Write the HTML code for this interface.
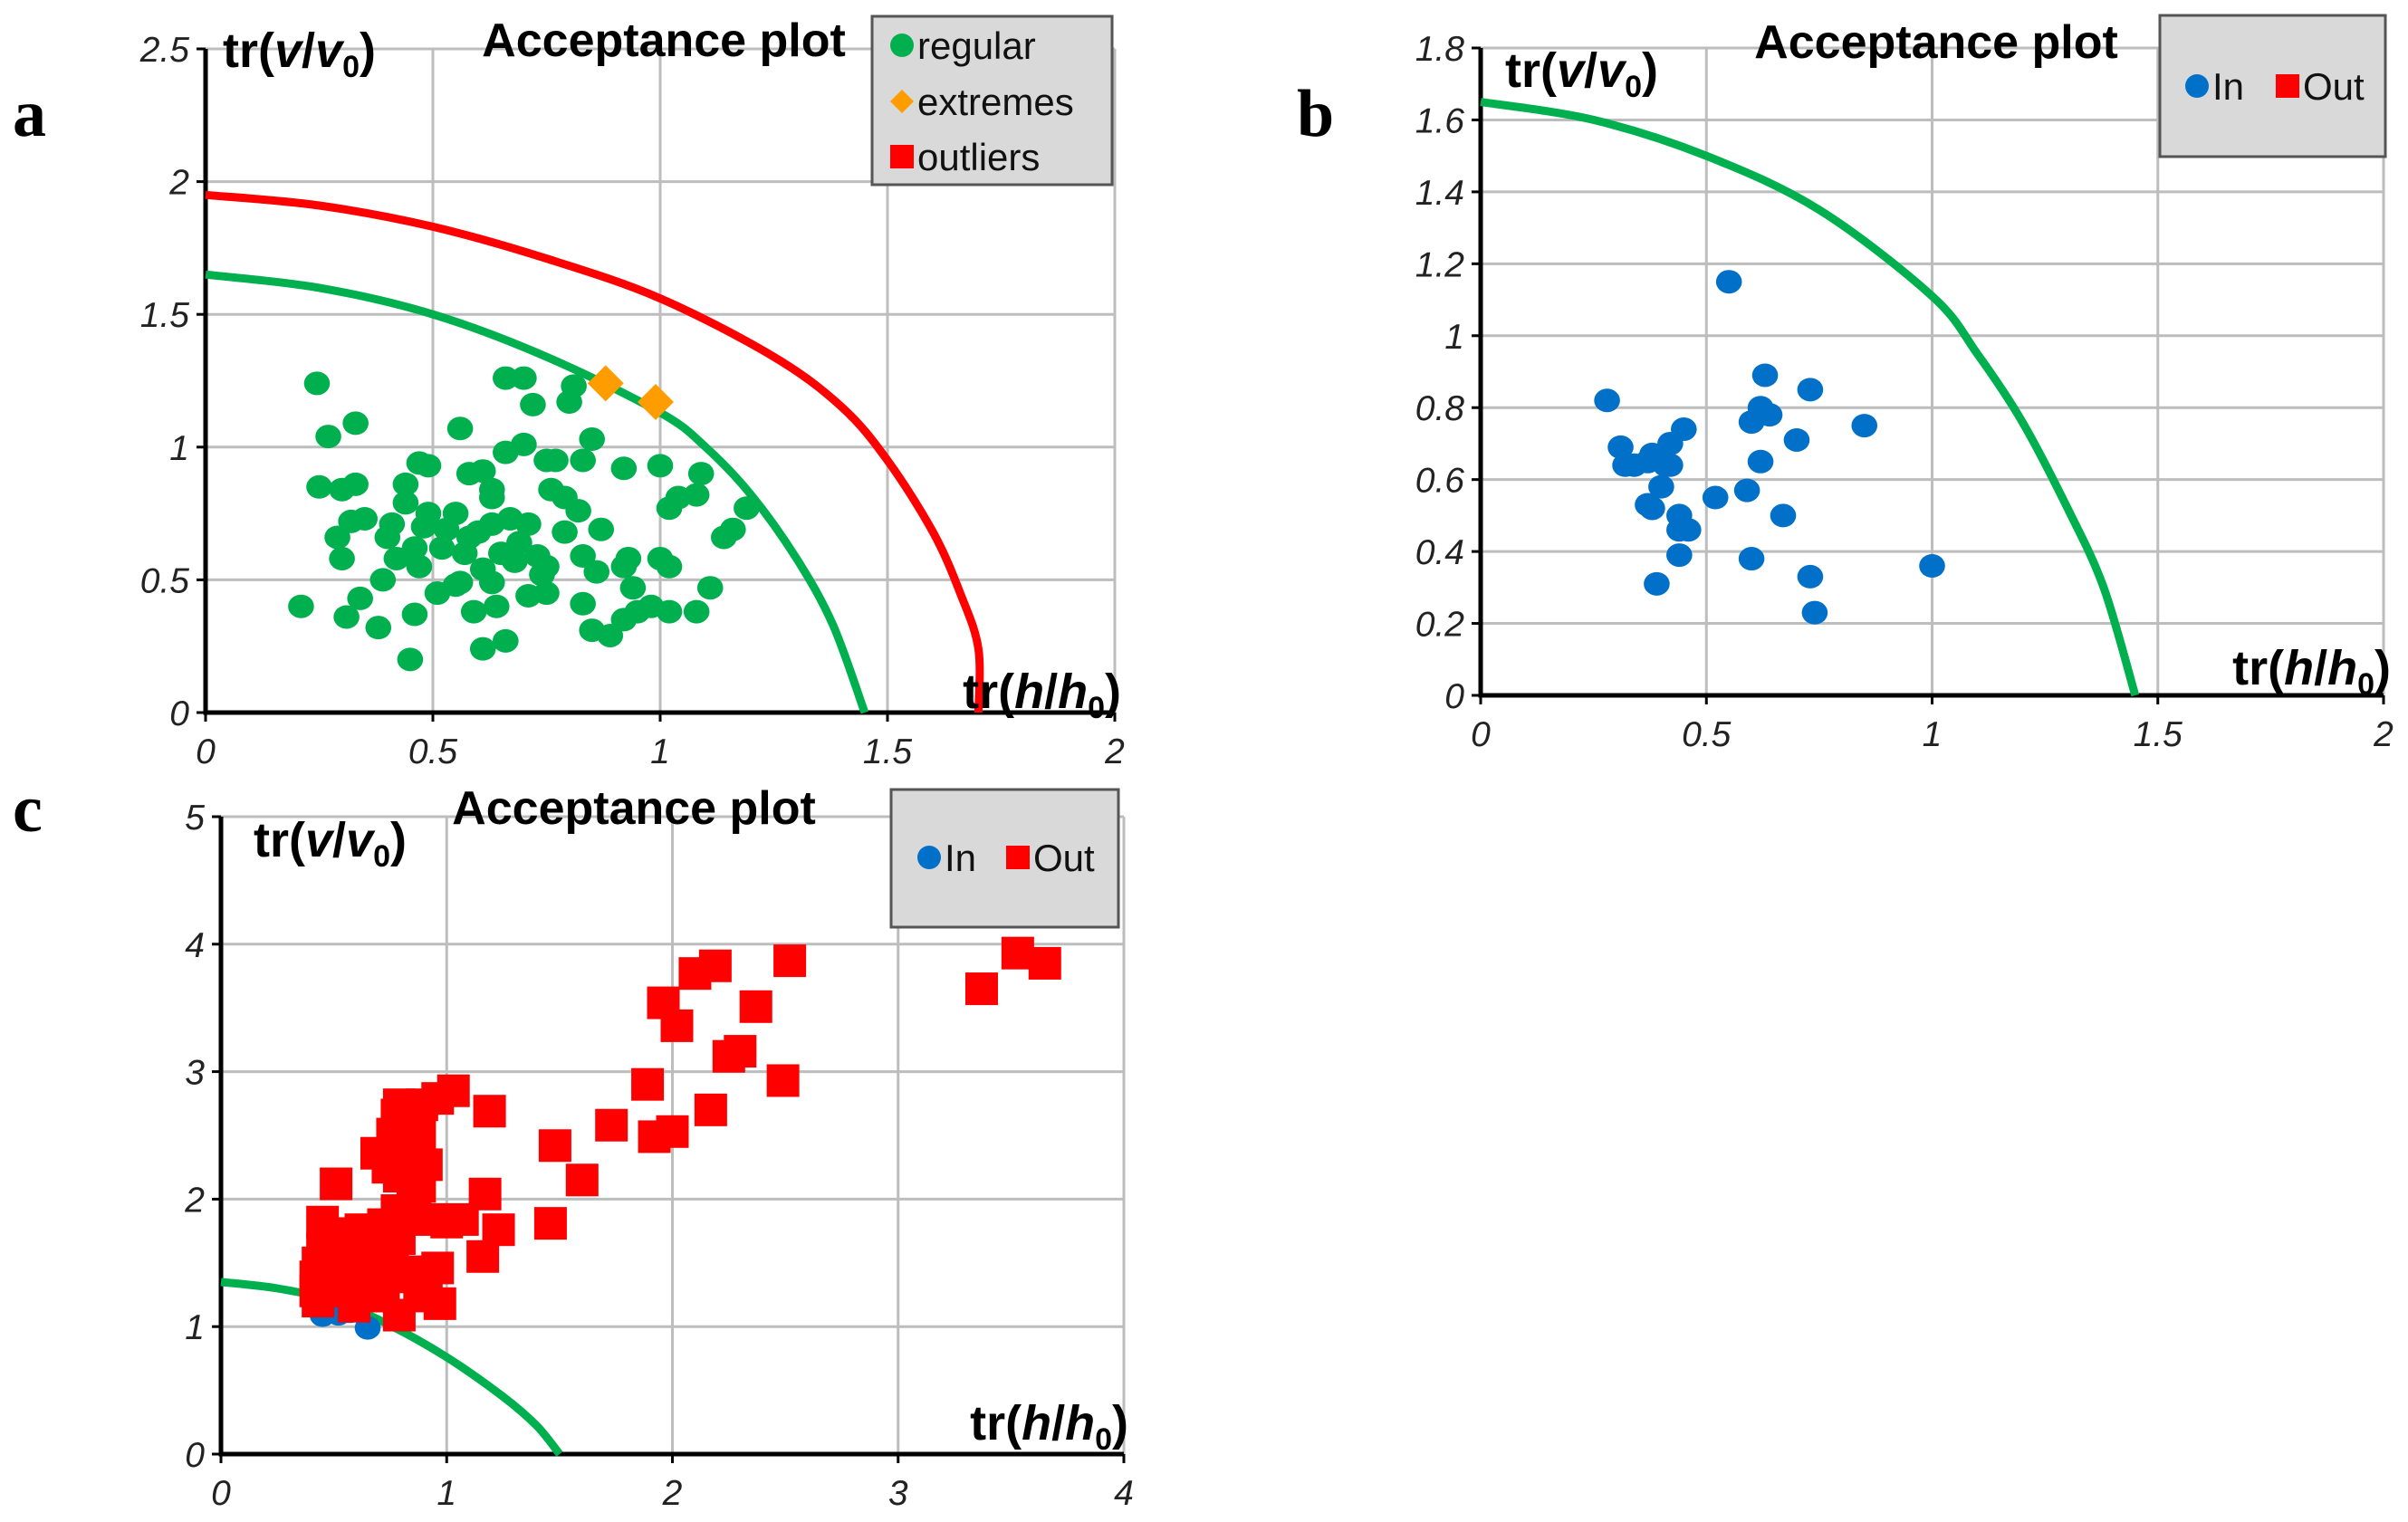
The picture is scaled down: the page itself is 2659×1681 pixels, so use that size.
<!DOCTYPE html>
<html><head><meta charset="utf-8"><style>
html,body{margin:0;padding:0;background:#fff;}
svg{display:block;font-family:"Liberation Sans",sans-serif;}
</style></head><body>
<svg id="fig" width="2659" height="1681" viewBox="0 0 2659 1681">
<text x="14" y="150" font-family="Liberation Serif,serif" font-weight="bold" font-size="74">a</text>
<text x="1432" y="150" font-family="Liberation Serif,serif" font-weight="bold" font-size="74">b</text>
<text x="14" y="918" font-family="Liberation Serif,serif" font-weight="bold" font-size="74">c</text>
</svg>
<script>
// ---- Panel A data ----
const aRegularX = [0.245,0.27,0.33,0.25,0.30,0.33,0.32,0.35,0.29,0.30,0.21,0.31,0.34,0.38,0.39,0.45,0.46,0.51,0.47,0.49,0.44,0.44,0.41,0.40,0.42,0.47,0.49,0.53,0.55,0.56,0.58,0.61,0.63,0.63,0.56,0.59,0.64,0.61,0.66,0.66,0.70,0.72,0.66,0.70,0.75,0.77,0.76,0.79,0.82,0.79,0.60,0.63,0.67,0.71,0.65,0.68,0.61,0.63,0.73,0.75,0.71,0.75,0.81,0.80,0.85,0.83,0.87,0.83,0.86,0.83,0.85,0.89,0.92,0.92,0.93,0.92,0.94,0.95,0.98,1.00,1.00,1.02,1.02,1.02,1.04,1.08,1.09,1.08,1.11,1.14,1.16,1.19,0.46,0.52,0.57,0.69,0.55,0.48,0.58,0.74];
const aRegularY = [1.24,1.04,1.09,0.85,0.84,0.86,0.72,0.73,0.66,0.58,0.40,0.36,0.43,0.32,0.50,0.20,0.37,0.45,0.94,0.93,0.86,0.79,0.71,0.66,0.58,0.55,0.75,0.69,0.75,1.07,0.90,0.91,0.84,0.81,0.49,0.38,0.40,0.24,0.27,1.26,1.26,1.16,0.98,1.01,0.95,0.95,0.84,0.81,0.76,0.68,0.68,0.71,0.73,0.71,0.60,0.57,0.54,0.49,0.59,0.55,0.44,0.45,1.23,1.17,1.03,0.95,0.69,0.59,0.53,0.41,0.31,0.29,0.35,0.92,0.58,0.55,0.47,0.38,0.40,0.93,0.58,0.55,0.38,0.77,0.81,0.82,0.90,0.38,0.47,0.66,0.69,0.77,0.62,0.62,0.60,0.64,0.48,0.70,0.66,0.52];
const aExtremeX = [0.88,0.99];
const aExtremeY = [1.24,1.17];
const aGreenX = [0,0.25,0.5,0.75,1.0,1.1,1.2,1.3,1.38,1.45];
const aGreenY = [1.65,1.60,1.50,1.34,1.13,1.00,0.82,0.58,0.33,0];
const aRedX = [0,0.25,0.5,0.75,1.0,1.25,1.4,1.5,1.6,1.66,1.70,1.70];
const aRedY = [1.95,1.91,1.83,1.71,1.56,1.34,1.15,0.95,0.68,0.45,0.24,0];
const aXTicks = ["0","0.5","1","1.5","2"];
const aYTicks = ["0","0.5","1","1.5","2","2.5"];
// ---- Panel B data ----
const bInX = [0.28,0.31,0.32,0.34,0.37,0.38,0.41,0.42,0.42,0.45,0.40,0.37,0.38,0.44,0.44,0.46,0.44,0.39,0.55,0.52,0.59,0.60,0.62,0.60,0.62,0.64,0.63,0.67,0.70,0.73,0.73,0.74,0.85,1.00];
const bInY = [0.82,0.69,0.64,0.64,0.65,0.67,0.64,0.64,0.70,0.74,0.58,0.53,0.52,0.50,0.46,0.46,0.39,0.31,1.15,0.55,0.57,0.38,0.65,0.76,0.80,0.78,0.89,0.50,0.71,0.85,0.33,0.23,0.75,0.36];
const bGreenX = [0,0.25,0.5,0.75,1.0,1.1,1.2,1.3,1.38,1.45];
const bGreenY = [1.65,1.60,1.50,1.35,1.11,0.95,0.76,0.52,0.30,0];
const bXTicks = ["0","0.5","1","1.5","2"];
const bYTicks = ["0","0.2","0.4","0.6","0.8","1","1.2","1.4","1.6","1.8"];
// ---- Panel C data ----
const cInX = [0.45,0.52,0.65,0.57];
const cInY = [1.09,1.10,0.99,1.12];
const cOutX = [3.37,3.53,3.65,2.52,2.10,2.19,1.96,2.02,2.37,2.25,2.30,2.49,1.89,2.17,1.92,2.00,1.73,1.48,1.60,1.46,1.17,1.23,1.16,1.19,0.96,0.97,0.79,1.07,0.51,0.45,1.03,0.96,0.89,0.79,0.78,0.83,0.88,0.76,0.69,0.74,0.83,0.91,0.88,0.79,0.78,0.86,0.93,1.00,0.72,0.62,0.53,0.45,0.43,0.42,0.42,0.43,0.52,0.53,0.55,0.62,0.66,0.62,0.66,0.72,0.76,0.76,0.79,0.71,0.59,0.83,0.91,0.88,0.48,0.57,0.67,0.85];
const cOutY = [3.65,3.93,3.85,3.87,3.77,3.83,3.54,3.36,3.51,3.12,3.16,2.93,2.90,2.70,2.49,2.53,2.58,2.42,2.15,1.81,2.04,1.76,1.55,2.69,1.46,1.18,1.09,1.84,2.12,1.82,2.85,2.79,2.74,2.74,2.66,2.59,2.51,2.51,2.36,2.25,2.30,2.27,2.10,2.18,1.91,1.86,1.84,1.82,1.80,1.76,1.73,1.61,1.50,1.39,1.28,1.20,1.28,1.43,1.58,1.61,1.50,1.35,1.24,1.24,1.39,1.61,1.69,1.54,1.16,1.43,1.33,1.24,1.45,1.30,1.66,1.95];
const cGreenX = [0,0.25,0.5,0.75,1.0,1.25,1.4,1.5];
const cGreenY = [1.35,1.30,1.20,1.01,0.76,0.45,0.22,0];
const cXTicks = ["0","1","2","3","4"];
const cYTicks = ["0","1","2","3","4","5"];

const NS="http://www.w3.org/2000/svg";
const svg=document.getElementById('fig');
function mk(tag,attrs,parent){const e=document.createElementNS(NS,tag);for(const k in attrs)e.setAttribute(k,attrs[k]);(parent||svg).appendChild(e);return e;}
function smooth(pts){
  let d='M'+pts[0][0].toFixed(1)+','+pts[0][1].toFixed(1);
  for(let i=0;i<pts.length-1;i++){
    const p0=pts[i-1]||pts[i],p1=pts[i],p2=pts[i+1],p3=pts[i+2]||p2;
    const c1=[p1[0]+(p2[0]-p0[0])/6,p1[1]+(p2[1]-p0[1])/6];
    const c2=[p2[0]-(p3[0]-p1[0])/6,p2[1]-(p3[1]-p1[1])/6];
    d+=`C${c1[0].toFixed(1)},${c1[1].toFixed(1)} ${c2[0].toFixed(1)},${c2[1].toFixed(1)} ${p2[0].toFixed(1)},${p2[1].toFixed(1)}`;
  }
  return d;
}

function panel(p){
  const g=mk('g',{});
  
  
  const sx=v=>p.x0+(v-p.xmin)/(p.xmax-p.xmin)*(p.x1-p.x0);
  const sy=v=>p.y0-(v-p.ymin)/(p.ymax-p.ymin)*(p.y0-p.y1);
  p.xt.forEach(t=>{const x=sx(parseFloat(t));
    const l=mk('line',{x1:x,x2:x,y1:p.y1,y2:p.y0,stroke:'#bdbdbd','stroke-width':3},g);
    
    
    const tx=mk('text',{x:x,y:p.y0+56,'text-anchor':'middle','font-size':39,'font-style':'italic',fill:'#222'},g);
    tx.textContent=t;
    
    
  });
  p.yt.forEach(t=>{const y=sy(parseFloat(t));
    const l=mk('line',{x1:p.x0,x2:p.x1,y1:y,y2:y,stroke:'#bdbdbd','stroke-width':3},g);
    
    
    const tx=mk('text',{x:p.x0-18,y:y+14,'text-anchor':'end','font-size':39,'font-style':'italic',fill:'#222'},g);
    tx.textContent=t;
    
    
  });
  const ax=mk('path',{d:`M${p.x0},${p.y1}V${p.y0}H${p.x1}`,stroke:'#000','stroke-width':5,fill:'none'},g);
  
  
  p.xt.forEach(t=>{const x=sx(parseFloat(t));mk('line',{x1:x,x2:x,y1:p.y0,y2:p.y0+10,stroke:'#000','stroke-width':3},g);});
  p.yt.forEach(t=>{const y=sy(parseFloat(t));mk('line',{x1:p.x0-10,x2:p.x0,y1:y,y2:y,stroke:'#000','stroke-width':3},g);});
  p.curves.forEach(c=>{
    const pts=c.x.map((v,i)=>[sx(v),sy(c.y[i])]);
    const pa=mk('path',{d:smooth(pts),stroke:c.color,'stroke-width':9,fill:'none','stroke-linejoin':'round'},g);
    
    
  });
  p.series.forEach(s=>{
    s.x.forEach((v,i)=>{
      const cx=sx(v),cy=sy(s.y[i]);let e;
      if(s.shape==='circle') e=mk('ellipse',{cx:cx,cy:cy,rx:s.r*1.1,ry:s.r,fill:s.color},g);
      else if(s.shape==='square') e=mk('rect',{x:cx-s.r,y:cy-s.r,width:2*s.r,height:2*s.r,fill:s.color},g);
      else e=mk('path',{d:`M${cx},${cy-s.r}L${cx+s.r},${cy}L${cx},${cy+s.r}L${cx-s.r},${cy}Z`,fill:s.color},g);
      
      
    });
  });
  const ti=mk('text',{x:p.tx,y:p.ty,'text-anchor':'middle','font-size':52,'font-weight':'bold'},g);
  ti.textContent='Acceptance plot';
  
  
  const yt=mk('text',{x:p.yl[0],y:p.yl[1],'font-size':54,'font-weight':'bold'},g);
  yt.innerHTML='tr(<tspan font-style="italic">v</tspan>/<tspan font-style="italic">v</tspan><tspan font-size="34" dy="11">0</tspan><tspan dy="-11">)</tspan>';
  
  
  const xt=mk('text',{x:p.xl[0],y:p.xl[1],'font-size':54,'font-weight':'bold','text-anchor':'end'},g);
  xt.innerHTML='tr(<tspan font-style="italic">h</tspan>/<tspan font-style="italic">h</tspan><tspan font-size="34" dy="11">0</tspan><tspan dy="-11">)</tspan>';
  
  
  const L=p.legend;
  const lb=mk('rect',{x:L.x,y:L.y,width:L.w,height:L.h,fill:'#d9d9d9',stroke:'#555','stroke-width':3},g);
  
  
  L.items.forEach(it=>{
    let m;
    if(it.shape==='circle') m=mk('circle',{cx:it.mx,cy:it.my,r:13,fill:it.color},g);
    else if(it.shape==='square') m=mk('rect',{x:it.mx-13,y:it.my-13,width:26,height:26,fill:it.color},g);
    else m=mk('path',{d:`M${it.mx},${it.my-13}L${it.mx+13},${it.my}L${it.mx},${it.my+13}L${it.mx-13},${it.my}Z`,fill:it.color},g);
    
    
    const t=mk('text',{x:it.mx+17,y:it.my+15,'font-size':42,fill:'#111'},g);
    t.textContent=it.label;
    
    
  });
}

const GREEN='#00b04f', RED='#ff0000', ORANGE='#ff9d00', BLUE='#0070c8';
panel({name:'panel-a',x0:227,x1:1231,y0:787,y1:54,xmin:0,xmax:2,ymin:0,ymax:2.5,xt:aXTicks,yt:aYTicks,
  curves:[{x:aRedX,y:aRedY,color:RED,name:'outlier-limit-curve'},{x:aGreenX,y:aGreenY,color:GREEN,name:'acceptance-limit-curve'}],
  series:[{x:aRegularX,y:aRegularY,shape:'circle',r:13,color:GREEN,name:'regular-point'},{x:aExtremeX,y:aExtremeY,shape:'diamond',r:20,color:ORANGE,name:'extreme-point'}],
  tx:733,ty:62,yl:[246,74],xl:[1238,782],
  legend:{x:963,y:18,w:265,h:186,items:[{shape:'circle',mx:996,my:50,color:GREEN,label:'regular'},{shape:'diamond',mx:996,my:112,color:ORANGE,label:'extremes'},{shape:'square',mx:996,my:173,color:RED,label:'outliers'}]}});
panel({name:'panel-b',x0:1635,x1:2632,y0:768,y1:53,xmin:0,xmax:2,ymin:0,ymax:1.8,xt:bXTicks,yt:bYTicks,
  curves:[{x:bGreenX,y:bGreenY,color:GREEN,name:'acceptance-limit-curve'}],
  series:[{x:bInX,y:bInY,shape:'circle',r:13,color:BLUE,name:'in-point'}],
  tx:2138,ty:64,yl:[1662,96],xl:[2640,756],
  legend:{x:2385,y:17,w:249,h:156,items:[{shape:'circle',mx:2426,my:95,color:BLUE,label:'In'},{shape:'square',mx:2526,my:95,color:RED,label:'Out'}]}});
panel({name:'panel-c',x0:244,x1:1241,y0:1606,y1:902,xmin:0,xmax:4,ymin:0,ymax:5,xt:cXTicks,yt:cYTicks,
  curves:[{x:cGreenX,y:cGreenY,color:GREEN,name:'acceptance-limit-curve'}],
  series:[{x:cInX,y:cInY,shape:'circle',r:13,color:BLUE,name:'in-point'},{x:cOutX,y:cOutY,shape:'square',r:18,color:RED,name:'out-point'}],
  tx:700,ty:910,yl:[280,946],xl:[1246,1590],
  legend:{x:984,y:872,w:251,h:152,items:[{shape:'circle',mx:1026,my:947,color:BLUE,label:'In'},{shape:'square',mx:1124,my:947,color:RED,label:'Out'}]}});
</script>
</body></html>
